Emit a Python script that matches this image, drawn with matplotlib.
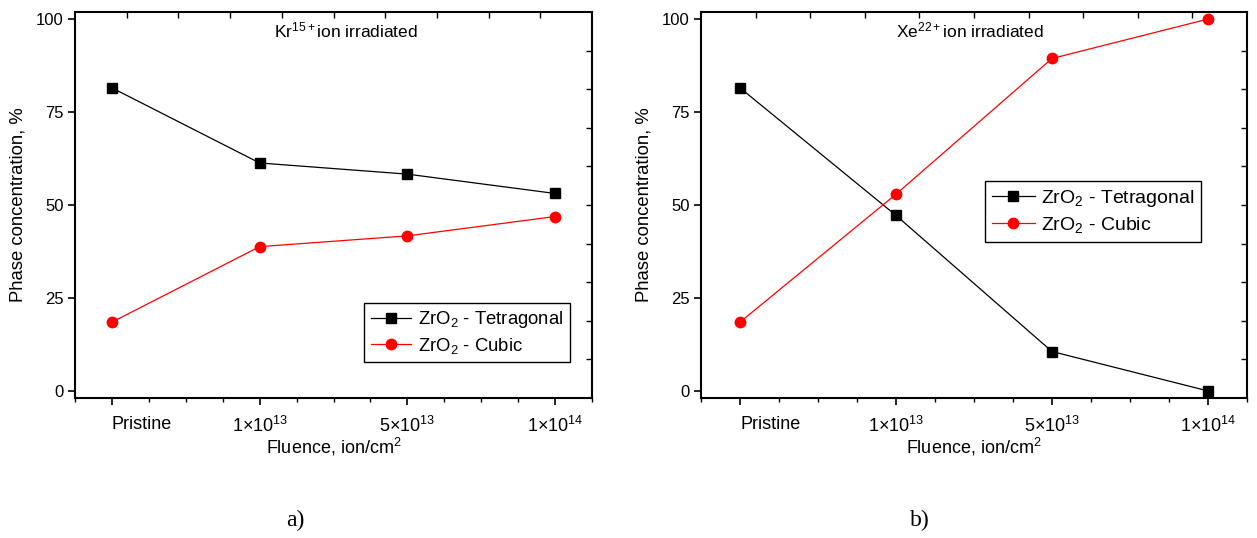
import matplotlib
matplotlib.use("Agg")
import matplotlib.pyplot as plt
from matplotlib.ticker import FixedLocator, NullFormatter

plt.rcParams['font.family'] = ['Liberation Sans', 'DejaVu Sans']
plt.rcParams['mathtext.fontset'] = 'custom'
plt.rcParams['mathtext.rm'] = 'Liberation Sans'
plt.rcParams['mathtext.it'] = 'Liberation Sans'

categories = ["Pristine", "1×10$^{13}$", "5×10$^{13}$", "1×10$^{14}$"]
kr_tetragonal = [81.5, 61.3, 58.3, 53.1]
kr_cubic = [18.5, 38.8, 41.7, 46.9]
xe_tetragonal = [81.5, 47.2, 10.6, 0.0]
xe_cubic = [18.5, 52.9, 89.4, 100.0]
yticks = [0, 25, 50, 75, 100]
titles = ["Kr$^{15+}$ion irradiated", "Xe$^{22+}$ion irradiated"]
panel_labels = ["a)", "b)"]

W, H = 1257, 538
fig = plt.figure(figsize=(W / 100, H / 100), dpi=100)

def px_axes(x0, x1, y0, y1):
    return [x0 / W, 1 - y1 / H, (x1 - x0) / W, (y1 - y0) / H]

panels = [
    dict(rect=px_axes(75, 592, 12, 398), tet=kr_tetragonal, cub=kr_cubic,
         title=titles[0], tx=0.524, legfs=13.3,
         leg=dict(loc='lower right', bbox_to_anchor=(0.957, 0.093)),
         lab=panel_labels[0], labx=295),
    dict(rect=px_axes(701, 1247, 12, 398), tet=xe_tetragonal, cub=xe_cubic,
         title=titles[1], tx=0.493, legfs=14,
         leg=dict(loc='upper left', bbox_to_anchor=(0.52, 0.562)),
         lab=panel_labels[1], labx=920),
]

fs = 13
for p in panels:
    ax = fig.add_axes(p['rect'])
    x = list(range(len(categories)))
    ax.plot(x, p['tet'], color='black', lw=0.9, marker='s', ms=6.5,
            label='ZrO$_2$ - Tetragonal')
    ax.plot(x, p['cub'], color='red', lw=0.9, marker='o', ms=7.5,
            label='ZrO$_2$ - Cubic')
    ax.set_xlim(-0.25, 3.25)
    ax.set_ylim(-1.9, 101.9)
    ax.set_xticks(x)
    ax.set_xticklabels(categories, fontsize=fs)
    ax.get_xticklabels()[0].set_ha('left')
    ax.xaxis.set_minor_locator(FixedLocator([0.25 * k for k in range(-1, 14) if k % 4 != 0]))
    ax.set_yticks(yticks)
    ax.set_yticklabels([str(v) for v in yticks], fontsize=12)
    ax.tick_params(axis='x', which='major', direction='out', length=5, width=1.2, pad=8,
                   top=False)
    ax.tick_params(axis='x', which='minor', direction='out', length=3, width=1.0, top=False)
    ax.tick_params(axis='y', which='major', direction='out', length=5, width=1.2, pad=3,
                   right=False)
    for s in ax.spines.values():
        s.set_linewidth(1.5)
    ax.set_xlabel('Fluence, ion/cm$^2$', fontsize=fs, labelpad=0)
    ax.set_ylabel('Phase concentration, %', fontsize=13.3, labelpad=7)
    ax.text(p['tx'], 0.953, p['title'], transform=ax.transAxes, ha='center', va='center',
            fontsize=12.5)
    leg = ax.legend(fontsize=p['legfs'], frameon=True, fancybox=False, framealpha=1,
                    edgecolor='black', handlelength=2.2, borderaxespad=0,
                    borderpad=0.35, labelspacing=0.3, handletextpad=0.35, **p['leg'])
    leg.get_frame().set_linewidth(1.0)

    # secondary (top/right) inward ticks of the frame
    ov = fig.add_axes(p['rect'], frameon=False)
    ov.set_xlim(0, 1)
    ov.set_ylim(0, 1)
    ov.patch.set_visible(False)
    fr = [0.1 * k for k in range(1, 10)]
    ov.xaxis.set_major_locator(FixedLocator(fr))
    ov.yaxis.set_major_locator(FixedLocator(fr))
    ov.xaxis.set_major_formatter(NullFormatter())
    ov.yaxis.set_major_formatter(NullFormatter())
    ov.tick_params(axis='both', direction='in', length=4, width=1.0,
                   top=True, right=True, bottom=False, left=False,
                   labeltop=False, labelright=False, labelbottom=False, labelleft=False)

    fig.text(p['labx'] / W, 1 - 520 / H, p['lab'], ha='center', va='center',
             fontsize=17, family=['Liberation Serif', 'DejaVu Serif'])

fig.savefig('out.png', dpi=100)
